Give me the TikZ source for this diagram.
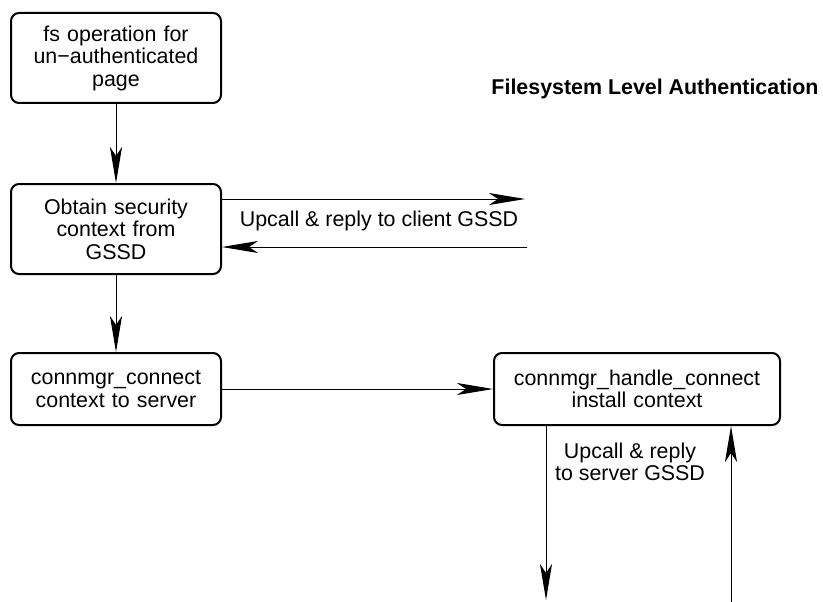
\documentclass[tikz,border=0pt]{standalone}
\usepackage{fontspec}
\setmainfont{Liberation Sans}
\usetikzlibrary{arrows.meta,positioning}

\begin{document}
\begin{tikzpicture}[
    x=1pt, y=1pt,
    font=\fontsize{21.4}{22.5}\selectfont,
    stage/.style={draw, rounded corners=8pt, text width=200pt, minimum width=210pt, minimum height=90pt, align=center, line width=2pt, inner sep=0pt},
    arrow/.style={-{Stealth[length=36pt, width=12pt, inset=9pt]}, line width=1pt},
    node distance=79pt
]
\useasboundingbox (0,0) rectangle (823,-602);

\node[stage] (fsop) at (116,-58) {fs operation for\\un−authenticated\\page};
\node[stage, below=of fsop] (obtain) {Obtain security\\context from\\GSSD};
\node[stage, below=77pt of obtain, minimum height=72pt] (connect) {connmgr\_connect\\context to server};
\node[stage, right=271pt of connect, minimum height=72pt, minimum width=286pt, text width=280pt] (handle) {connmgr\_handle\_connect\\install context};

\node[font=\fontsize{21.4}{24}\selectfont\bfseries] (title) at (655,-89) {Filesystem Level Authentication};
\node (clientlbl) at (379,-221) {Upcall \& reply to client GSSD};
\node[align=center] (serverlbl) at (630,-462) {Upcall \& reply\\to server GSSD};

% ends of the upcalls
\coordinate (cout) at (525,-199);
\coordinate (cin) at (527,-247);
\coordinate (sout) at (546,-600);
\coordinate (sin) at (731,-602);

\foreach \i/\j in {fsop/obtain, obtain/connect}
  \draw[arrow] (\i.south) -- (\j.north);
\draw[arrow] (connect.east) -- (handle.west);
\draw[arrow] (obtain.east |- cout) -- (cout);
\draw[arrow] (cin) -- (obtain.east |- cin);
\draw[arrow] (handle.south -| sout) -- (sout);
\draw[arrow] (sin) -- (handle.south -| sin);
\end{tikzpicture}
\end{document}
